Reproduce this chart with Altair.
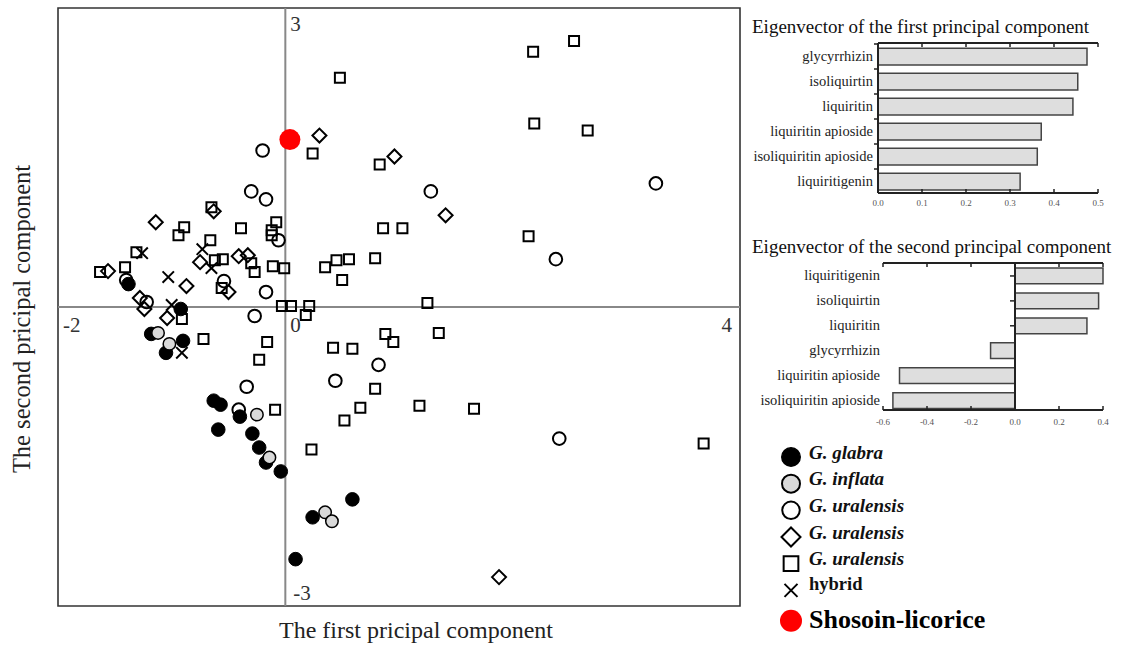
import altair as alt
import pandas as pd

FONT = "Liberation Serif"
AX = "#222222"

# ---------------- scatter data (PC1 score, PC2 score) ----------------
glabra_x = [-1.38, -0.92, -1.18, -0.90, -1.05, -0.63, -0.57, -0.40, -0.59, -0.29, -0.23, -0.17, -0.04, 0.59, 0.24, 0.09]
glabra_y = [0.23, -0.02, -0.27, -0.34, -0.46, -0.94, -0.98, -1.10, -1.23, -1.27, -1.41, -1.56, -1.65, -1.93, -2.11, -2.53]

inflata_x = [-1.12, -1.02, -0.25, -0.14, 0.35, 0.41]
inflata_y = [-0.26, -0.37, -1.08, -1.51, -2.06, -2.15]

ural_circle_x = [-0.20, -0.30, -0.17, -0.06, -1.40, -1.22, -0.54, -0.17, -0.27, -0.34, -0.41, 0.82, 0.44, 1.28, 3.26, 2.38, 2.41]
ural_circle_y = [1.57, 1.16, 1.08, 0.67, 0.27, 0.05, 0.26, 0.15, -0.09, -0.80, -1.03, -0.58, -0.74, 1.16, 1.24, 0.48, -1.32]

ural_diamond_x = [0.30, 0.96, 1.41, 1.88, -1.14, -0.63, -0.75, -0.41, -0.33, -1.56, -0.87, -0.50, -1.28, -1.24, -1.04]
ural_diamond_y = [1.72, 1.51, 0.92, -2.71, 0.85, 0.96, 0.45, 0.51, 0.52, 0.36, 0.21, 0.15, 0.09, -0.02, -0.11]

ural_square_x = [0.48, 2.18, 2.54, 2.19, 2.66, 0.24, 0.83, 0.86, 1.03, 2.14, 0.35, 0.45, 0.56, 0.50, 0.79,
                 1.25, 0.05, 0.21, -0.03, 0.18, -0.65, -0.89, -0.94, -0.39, -0.08, -0.12, -0.12, -0.66,
                 -1.31, -0.62, -0.55, -0.30, -0.27, -0.11, -0.01, -1.41, -1.63, -0.56, -0.91, -0.72,
                 -0.16, -0.23, -0.09, 0.23, 0.88, 0.95, 1.35, 0.42, 0.59, 0.79, 0.66, 0.52, 1.18, 1.66, 3.68]
ural_square_y = [2.30, 2.56, 2.67, 1.84, 1.77, 1.54, 1.43, 0.79, 0.79, 0.71, 0.40, 0.47, 0.48, 0.27, 0.49,
                 0.04, 0.01, 0.01, 0.01, -0.08, 1.00, 0.80, 0.72, 0.79, 0.85, 0.77, 0.72, 0.67,
                 0.55, 0.47, 0.48, 0.44, 0.35, 0.41, 0.39, 0.40, 0.35, 0.19, -0.12, -0.32,
                 -0.35, -0.53, -1.03, -1.43, -0.27, -0.35, -0.26, -0.41, -0.42, -0.82, -1.01, -1.14, -0.99, -1.02, -1.37]

hybrid_x = [-1.26, -0.73, -0.65, -1.03, -1.00, -0.91]
hybrid_y = [0.54, 0.58, 0.39, 0.30, 0.02, -0.46]

shosoin_x = [0.04]
shosoin_y = [1.68]

scatter_domain_x = [-2, 4]
scatter_domain_y = [-3, 3]
axis_x_ticks = [-2, 0, 4]
axis_x_labels = ["-2", "0", "4"]
axis_y_ticks = [3, -3]
axis_y_labels = ["3", "-3"]

x_title = "The first pricipal component"
y_title = "The second pricipal component"

# ---------------- eigenvector bar data ----------------
pc1_title = "Eigenvector of the first principal component"
pc1_names = ["glycyrrhizin", "isoliquirtin", "liquiritin", "liquiritin apioside",
             "isoliquiritin apioside", "liquiritigenin"]
pc1_values = [0.475, 0.454, 0.443, 0.371, 0.362, 0.323]
pc1_ticks = [0.0, 0.1, 0.2, 0.3, 0.4, 0.5]
pc1_tick_labels = ["0.0", "0.1", "0.2", "0.3", "0.4", "0.5"]

pc2_title = "Eigenvector of the second principal component"
pc2_names = ["liquiritigenin", "isoliquirtin", "liquiritin", "glycyrrhizin",
             "liquiritin apioside", "isoliquiritin apioside"]
pc2_values = [0.400, 0.380, 0.327, -0.111, -0.525, -0.555]
pc2_ticks = [-0.6, -0.4, -0.2, 0.0, 0.2, 0.4]
pc2_tick_labels = ["-0.6", "-0.4", "-0.2", "0.0", "0.2", "0.4"]

# ---------------- legend ----------------
legend_keys = ["glabra", "inflata", "ural_c", "ural_d", "ural_s", "hybrid", "shosoin"]
legend_labels = ["G. glabra", "G. inflata", "G. uralensis", "G. uralensis", "G. uralensis",
                 "hybrid", "Shosoin-licorice"]

one = pd.DataFrame({"k": [0]})
XPATH = "M-1,-1L1,1M-1,1L1,-1"

# ================= scatter panel =================
XS = alt.Scale(domain=scatter_domain_x, range=[58, 740], nice=False, zero=False)
YS = alt.Scale(domain=scatter_domain_y, range=[606, 8], nice=False, zero=False)


def xq(f):
    return alt.X(f, type="quantitative", scale=XS, axis=None)


def yq(f):
    return alt.Y(f, type="quantitative", scale=YS, axis=None)


def xd(v):
    return alt.XDatum(v, type="quantitative", scale=XS, axis=None)


def yd(v):
    return alt.YDatum(v, type="quantitative", scale=YS, axis=None)


def group(xs, ys, **style):
    df = pd.DataFrame({"x": xs, "y": ys})
    return alt.Chart(df).mark_point(opacity=1, **style).encode(x=xq("x"), y=yq("y"))


frame = alt.Chart(one).mark_rect(fill="transparent", stroke="#333333", strokeWidth=1.6).encode(
    x=xd(scatter_domain_x[0]), x2=alt.X2Datum(scatter_domain_x[1]),
    y=yd(scatter_domain_y[0]), y2=alt.Y2Datum(scatter_domain_y[1]))
hline = alt.Chart(one).mark_rule(stroke="#888888", strokeWidth=2).encode(
    x=xd(scatter_domain_x[0]), x2=alt.X2Datum(scatter_domain_x[1]), y=yd(0))
vline = alt.Chart(one).mark_rule(stroke="#888888", strokeWidth=2).encode(
    x=xd(0), y=yd(scatter_domain_y[0]), y2=alt.Y2Datum(scatter_domain_y[1]))

tick_style = dict(font=FONT, fontSize=21, color="#333333", baseline="alphabetic")
xlab_left = alt.Chart(pd.DataFrame({"v": axis_x_ticks[:2], "lab": axis_x_labels[:2]})).mark_text(
    align="left", dx=5, dy=25, **tick_style).encode(x=xq("v"), y=yd(0), text="lab:N")
xlab_right = alt.Chart(pd.DataFrame({"v": axis_x_ticks[2:], "lab": axis_x_labels[2:]})).mark_text(
    align="right", dx=-8, dy=25, **tick_style).encode(x=xq("v"), y=yd(0), text="lab:N")
ylab_top = alt.Chart(pd.DataFrame({"v": axis_y_ticks[:1], "lab": axis_y_labels[:1]})).mark_text(
    align="left", dx=5, dy=23, **tick_style).encode(x=xd(0), y=yq("v"), text="lab:N")
ylab_bot = alt.Chart(pd.DataFrame({"v": axis_y_ticks[1:], "lab": axis_y_labels[1:]})).mark_text(
    align="left", dx=8, dy=-6, **tick_style).encode(x=xd(0), y=yq("v"), text="lab:N")

scatter = alt.layer(
    frame, hline, vline,
    group(ural_square_x, ural_square_y, shape="square", size=100, filled=False, stroke="black", strokeWidth=2),
    group(ural_diamond_x, ural_diamond_y, shape="diamond", size=196, filled=False, stroke="black", strokeWidth=2),
    group(ural_circle_x, ural_circle_y, shape="circle", size=160, filled=False, stroke="black", strokeWidth=2),
    group(hybrid_x, hybrid_y, shape=XPATH, size=130, filled=False, stroke="black", strokeWidth=2),
    group(glabra_x, glabra_y, shape="circle", size=185, filled=True, fill="black", stroke="black", strokeWidth=1),
    group(inflata_x, inflata_y, shape="circle", size=155, filled=True, fill="#d9d9d9", stroke="black", strokeWidth=1.5),
    group(shosoin_x, shosoin_y, shape="circle", size=441, filled=True, fill="#ff0000", strokeWidth=0),
    xlab_left, xlab_right, ylab_top, ylab_bot,
)

xtitle = alt.Chart(pd.DataFrame({"t": [x_title]})).mark_text(
    font=FONT, fontSize=24, color="#222222", align="center", baseline="alphabetic").encode(
    x=alt.value(416), y=alt.value(638), text="t:N")
ytitle = alt.Chart(pd.DataFrame({"t": [y_title]})).mark_text(
    font=FONT, fontSize=24.5, color="#222222", align="center", baseline="alphabetic", angle=270).encode(
    x=alt.value(30), y=alt.value(319), text="t:N")

# ================= bar panels =================
label_style = dict(font=FONT, fontSize=14.5, color="#222222", baseline="middle", align="right")
ticklab_style = dict(font=FONT, fontSize=9, color="#555555", baseline="middle", align="center")
bar_style = dict(fill="#dedede", stroke="#444444", strokeWidth=1.5)


def bar_panel(names, values, ticks, tick_labels, title, xsc, ysc, top, bottom,
              axis_value, label_value, label_dx, stub_offset, stub_len, ticklab_y, title_y):
    df = pd.DataFrame({"name": names, "v": values})
    tdf = pd.DataFrame({"t": ticks, "lab": tick_labels})
    lo, hi = ticks[0], ticks[-1]

    def xdat(v):
        return alt.XDatum(v, type="quantitative", scale=xsc, axis=None)

    yname = alt.Y("name:N", scale=ysc, axis=None)
    xt = alt.X("t:Q", scale=xsc, axis=None)
    stubs = alt.Chart(df).mark_rule(stroke=AX, strokeWidth=1.5, yOffset=stub_offset, x2Offset=-stub_len).encode(
        x=xdat(axis_value), x2=alt.X2Datum(axis_value), y=yname)
    bars = alt.Chart(df).mark_bar(**bar_style).encode(
        x=alt.X("v:Q", scale=xsc, axis=None), x2=alt.X2Datum(0), y=yname)
    labels = alt.Chart(df).mark_text(dx=label_dx, **label_style).encode(
        x=xdat(label_value), y=yname, text="name:N")
    top_line = alt.Chart(one).mark_rule(stroke=AX, strokeWidth=2).encode(
        x=xdat(lo), x2=alt.X2Datum(hi), y=alt.value(top))
    bot_line = alt.Chart(one).mark_rule(stroke=AX, strokeWidth=2).encode(
        x=xdat(lo), x2=alt.X2Datum(hi), y=alt.value(bottom))
    axis_line = alt.Chart(one).mark_rule(stroke=AX, strokeWidth=2).encode(
        x=xdat(axis_value), y=alt.value(top), y2=alt.value(bottom))
    top_ticks = alt.Chart(tdf).mark_rule(stroke=AX, strokeWidth=1.5).encode(
        x=xt, y=alt.value(top), y2=alt.value(top + 4))
    bot_ticks = alt.Chart(tdf).mark_rule(stroke=AX, strokeWidth=1.5).encode(
        x=xt, y=alt.value(bottom - 4), y2=alt.value(bottom))
    tick_labels_l = alt.Chart(tdf).mark_text(**ticklab_style).encode(
        x=xt, y=alt.value(ticklab_y), text="lab:N")
    ttl = alt.Chart(pd.DataFrame({"t": [title]})).mark_text(
        font=FONT, fontSize=19, color="#111111", align="left", baseline="alphabetic").encode(
        x=alt.value(752), y=alt.value(title_y), text="t:N")
    return alt.layer(stubs, bars, labels, top_line, bot_line, axis_line,
                     top_ticks, bot_ticks, tick_labels_l, ttl)


P1X = alt.Scale(domain=[pc1_ticks[0], pc1_ticks[-1]], range=[878, 1098], nice=False)
P1Y = alt.Scale(domain=pc1_names, range=[44, 194], paddingInner=0.33, paddingOuter=0.165)
P2X = alt.Scale(domain=[pc2_ticks[0], pc2_ticks[-1]], range=[883, 1103], nice=False)
P2Y = alt.Scale(domain=pc2_names, range=[263.5, 413], paddingInner=0.37, paddingOuter=0.185)

panel1 = bar_panel(pc1_names, pc1_values, pc1_ticks, pc1_tick_labels, pc1_title, P1X, P1Y,
                   43, 193, 0.0, 0.0, -5, -12.5, 4, 203, 33)
panel2 = bar_panel(pc2_names, pc2_values, pc2_ticks, pc2_tick_labels, pc2_title, P2X, P2Y,
                   263, 410, 0.0, -0.6, -3, 0, 5, 421.5, 253)

# ================= legend =================
LY = alt.Scale(domain=legend_keys, range=[457, 617], type="point", padding=0)
ly = alt.Y("key:N", scale=LY, axis=None)
legend_styles = [
    dict(shape="circle", size=342, filled=True, fill="black", stroke="black", strokeWidth=1.5),
    dict(shape="circle", size=324, filled=True, fill="#d9d9d9", stroke="black", strokeWidth=2),
    dict(shape="circle", size=306, filled=False, stroke="black", strokeWidth=2),
    dict(shape="diamond", size=361, filled=False, stroke="black", strokeWidth=2),
    dict(shape="square", size=216, filled=False, stroke="black", strokeWidth=2),
    dict(shape=XPATH, size=169, filled=False, stroke="black", strokeWidth=2),
    dict(shape="circle", size=484, filled=True, fill="#ff0000", strokeWidth=0, yOffset=3.7),
]
legend_layers = []
for key, style in zip(legend_keys, legend_styles):
    legend_layers.append(
        alt.Chart(pd.DataFrame({"key": [key]})).mark_point(opacity=1, **style).encode(
            x=alt.value(791), y=ly))
ldf = pd.DataFrame({"key": legend_keys, "label": legend_labels})
legend_layers.append(
    alt.Chart(ldf.iloc[:5]).mark_text(font=FONT, fontSize=19, fontStyle="italic", fontWeight="bold",
                                      color="#111111", align="left", baseline="alphabetic", dy=1.5).encode(
        x=alt.value(809), y=ly, text="label:N"))
legend_layers.append(
    alt.Chart(ldf.iloc[5:6]).mark_text(font=FONT, fontSize=18.5, fontWeight="bold",
                                       color="#111111", align="left", baseline="alphabetic", dy=0).encode(
        x=alt.value(809), y=ly, text="label:N"))
legend_layers.append(
    alt.Chart(ldf.iloc[6:7]).mark_text(font=FONT, fontSize=26, fontWeight="bold",
                                       color="#000000", align="left", baseline="alphabetic", dy=10.5).encode(
        x=alt.value(809), y=ly, text="label:N"))
legend = alt.layer(*legend_layers)

chart = alt.layer(scatter, panel1, panel2, legend, xtitle, ytitle).resolve_scale(
    x="independent", y="independent"
).properties(
    width=1123, height=647, padding=0, autosize=alt.AutoSizeParams(type="none")
).configure_view(stroke=None)

chart.save("out.html", embed_options={"renderer": "svg", "actions": False})
